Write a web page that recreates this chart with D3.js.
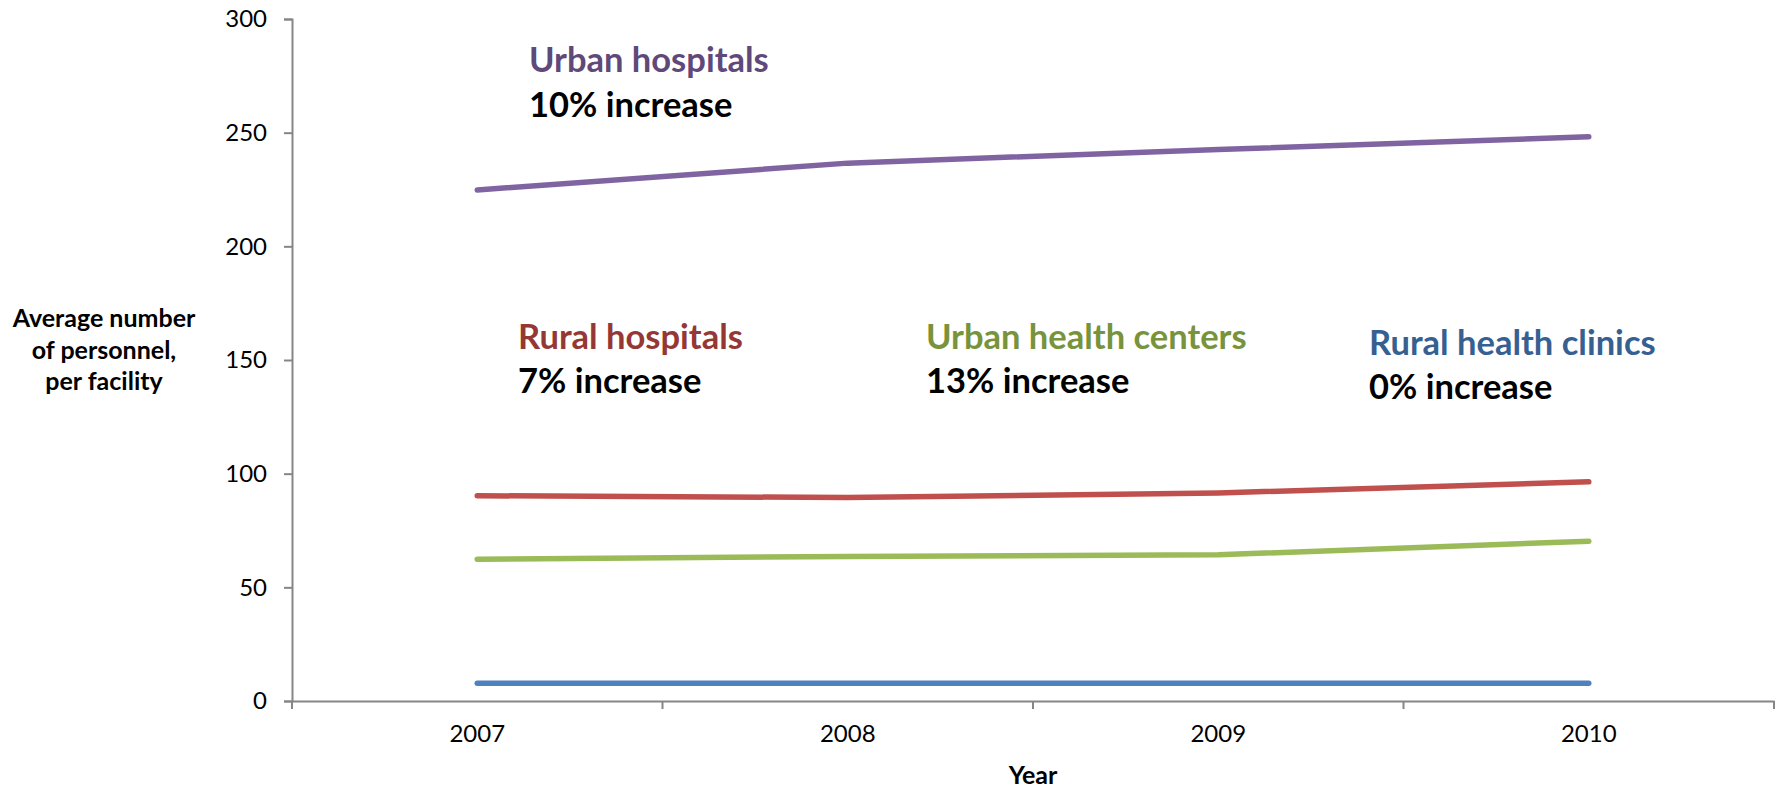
<!DOCTYPE html>
<html>
<head>
<meta charset="utf-8">
<script src="https://cdn.jsdelivr.net/npm/d3@7"></script>
<style>
  html, body { margin: 0; padding: 0; background: #fff; }
  svg { display: block; }
  text { font-family: Lato, "Open Sans", "DejaVu Sans", sans-serif; }
</style>
</head>
<body>
<svg id="chart" width="1777" height="789"></svg>
<script>
// ---- data ----
const years = ["2007", "2008", "2009", "2010"];
const urbanHospitals = [224.8, 236.6, 242.6, 248.2];
const ruralHospitals = [90.3, 89.5, 91.5, 96.4];
const urbanHealthCenters = [62.4, 63.6, 64.3, 70.3];
const ruralHealthClinics = [7.8, 7.8, 7.8, 7.8];
const seriesNames = ["Urban hospitals", "Rural hospitals", "Urban health centers", "Rural health clinics"];
const increaseLabels = ["10% increase", "7% increase", "13% increase", "0% increase"];
const yTicks = [0, 50, 100, 150, 200, 250, 300];
const yTitleLines = ["Average number", "of personnel,", "per facility"];
const xTitle = "Year";

// ---- layout / style ----
const W = 1777, H = 789;
const plot = { left: 292, right: 1774, top: 19, bottom: 701 };
const lineColors = ["#8064A2", "#C0504D", "#9BBB59", "#4F81BD"];
const textColors = ["#5F497A", "#953735", "#77933C", "#376092"];
const axisColor = "#868686";

const svg = d3.select("#chart");

const x = d3.scaleBand().domain(years).range([plot.left, plot.right]).paddingInner(0).paddingOuter(0);
const y = d3.scaleLinear().domain([0, 300]).range([plot.bottom, plot.top]);

// Y axis
const yAxis = svg.append("g")
  .attr("transform", `translate(${plot.left},0)`)
  .call(d3.axisLeft(y).tickValues(yTicks).tickSize(8).tickPadding(17).tickFormat(d3.format("d")));
yAxis.select(".domain").attr("stroke", axisColor).attr("stroke-width", 2);
yAxis.selectAll(".tick line").attr("stroke", axisColor).attr("stroke-width", 2);
yAxis.selectAll(".tick text").attr("fill", "#000").attr("font-size", 24)
  .attr("font-family", "Lato, sans-serif");

// X axis: labels at band centers, tick marks at band edges
const xAxis = svg.append("g")
  .attr("transform", `translate(0,${plot.bottom})`)
  .call(d3.axisBottom(x).tickSize(0).tickPadding(24));
xAxis.select(".domain").attr("stroke", axisColor).attr("stroke-width", 2);
xAxis.selectAll(".tick text").attr("fill", "#000").attr("font-size", 24)
  .attr("font-family", "Lato, sans-serif");
const edges = years.map(d => x(d)).concat([x(years[years.length - 1]) + x.bandwidth()]);
xAxis.selectAll(".edge").data(edges).enter().append("line")
  .attr("class", "edge")
  .attr("x1", d => d).attr("x2", d => d)
  .attr("y1", 0).attr("y2", 8)
  .attr("stroke", axisColor).attr("stroke-width", 2);

// Axis titles
svg.append("text")
  .attr("x", x(years[1]) + x.bandwidth()).attr("y", 784)
  .attr("text-anchor", "middle").attr("font-weight", "bold").attr("font-size", 25)
  .attr("fill", "#000").text(xTitle);

const yTitle = svg.append("text")
  .attr("text-anchor", "middle").attr("font-weight", "bold").attr("font-size", 25).attr("fill", "#000");
yTitleLines.forEach((t, i) => {
  yTitle.append("tspan").attr("x", 104).attr("y", 327 + i * 31.5).text(t);
});

// Lines
const allSeries = [urbanHospitals, ruralHospitals, urbanHealthCenters, ruralHealthClinics];
const line = d3.line()
  .x((d, i) => x(years[i]) + x.bandwidth() / 2)
  .y(d => y(d));
svg.append("g").selectAll("path").data(allSeries).enter().append("path")
  .attr("d", d => line(d))
  .attr("fill", "none")
  .attr("stroke", (d, i) => lineColors[i])
  .attr("stroke-width", 5.5)
  .attr("stroke-linecap", "round")
  .attr("stroke-linejoin", "round");

// Annotations
const annPos = [
  { x: 529, y1: 72, y2: 117 },
  { x: 518, y1: 349, y2: 393 },
  { x: 926, y1: 349, y2: 393 },
  { x: 1369, y1: 355, y2: 399 }
];
const ann = svg.append("g");
seriesNames.forEach((name, i) => {
  ann.append("text")
    .attr("x", annPos[i].x).attr("y", annPos[i].y1)
    .attr("font-weight", "bold").attr("font-size", 34.5)
    .attr("fill", textColors[i]).text(name);
  ann.append("text")
    .attr("x", annPos[i].x).attr("y", annPos[i].y2)
    .attr("font-weight", "bold").attr("font-size", 34.5)
    .attr("fill", "#000").text(increaseLabels[i]);
});
</script>
</body>
</html>
